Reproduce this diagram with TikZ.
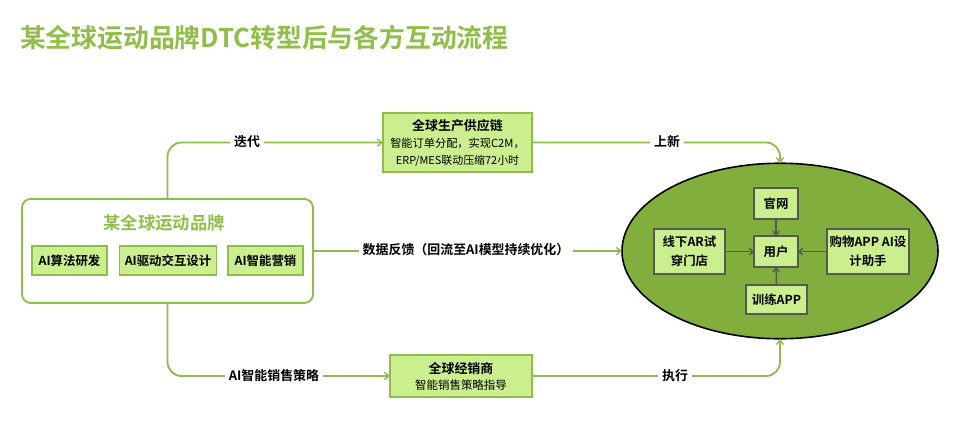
\documentclass[tikz,border=0pt]{standalone}
\usepackage{fontspec}
\setmainfont{Noto Sans CJK SC}
\newfontfamily\boldcjk{Noto Sans CJK SC Bold}
\usetikzlibrary{shapes.geometric,arrows.meta,calc}
\definecolor{gline}{HTML}{8FBC4F}
\definecolor{gfill}{HTML}{CBEE8F}
\definecolor{gell}{HTML}{82AE3E}
\definecolor{gtitle}{HTML}{8FBF48}
\definecolor{gdark}{HTML}{555B50}
\tikzset{
  x=0.75pt,y=-0.75pt,
  every node/.style={inner sep=0pt,outer sep=0pt,font=\fontsize{9.4}{12}\selectfont},
  flow/.style={draw=gline,line width=1.4pt,rounded corners=10.5pt,-{Straight Barb[length=3.5pt,width=5.5pt,line width=1pt]}},
  inner/.style={draw=gdark,line width=1.1pt,-{Straight Barb[length=3pt,width=5pt,line width=1pt]}},
  greenbox/.style={draw=gline,fill=gfill,line width=1.3pt,minimum width=#1,anchor=center,align=center},
  darkbox/.style={draw=gdark,fill=gfill,line width=1.2pt,align=center},
  lab/.style={fill=white,inner xsep=3pt,inner ysep=3pt,font=\boldcjk\fontsize{9.7}{12}\selectfont},
  bt/.style={font=\boldcjk\fontsize{9.3}{14.2}\selectfont},
}
\newcommand{\boxat}[6]{\node[#1,minimum width=#4*0.75pt,minimum height=#5*0.75pt] (#2) at (#3) {#6};}
\begin{document}
\begin{tikzpicture}
\useasboundingbox (0,0) rectangle (960,434);
\node[anchor=west,text=gtitle,font=\boldcjk\fontsize{19.35}{22}\selectfont] (title) at (20,38) {某全球运动品牌DTC转型后与各方互动流程};

% brand
\node[draw=gline,line width=1.4pt,rounded corners=6.5pt,minimum width=291*0.75pt,minimum height=104*0.75pt] (brand) at (167.5,251) {};
\node[text=gtitle,font=\boldcjk\fontsize{13}{15}\selectfont] (brandt) at (164,223) {某全球运动品牌};
\boxat{greenbox=0pt,bt}{b1}{69.5,260.5}{75}{29}{AI算法研发}
\boxat{greenbox=0pt,bt}{b2}{168,260.5}{97}{29}{AI驱动交互设计}
\boxat{greenbox=0pt,bt}{b3}{265.5,260.5}{75}{29}{AI智能营销}

% supply
\boxat{greenbox=0pt}{sup}{457.5,142.5}{149}{59}{{\boldcjk\fontsize{9.7}{12}\selectfont 全球生产供应链}\\[0.75pt]{\fontsize{8.4}{12}\selectfont 智能订单分配，实现C2M，}\\[0.75pt]{\fontsize{8.2}{12}\selectfont ERP/MES联动压缩72小时}}
% dealer
\boxat{greenbox=0pt}{deal}{461,376}{142}{42}{{\boldcjk\fontsize{9.7}{12}\selectfont 全球经销商}\\{\fontsize{8.6}{12}\selectfont 智能销售策略指导}}

% ellipse
\node[ellipse,draw=black,fill=gell,line width=1.2pt,minimum width=316*0.75pt,minimum height=175.5*0.75pt] (ell) at (780,251) {};
\boxat{darkbox,bt}{web}{776,203.5}{43.5}{31}{官网}
\boxat{darkbox,bt}{user}{776,251.5}{43.5}{31}{用户}
\boxat{darkbox,bt}{ar}{689.5,251.5}{71}{45}{线下AR试\\穿门店}
\boxat{darkbox,bt}{shop}{868,251.5}{82}{45}{购物APP AI设\\计助手}
\boxat{darkbox,bt}{train}{776.5,299.5}{61}{29}{训练APP}
\draw[inner] (web) -- (user);
\draw[inner] (train) -- (user);
\draw[inner] (ar) -- (user);
\draw[inner] (shop) -- (user);

% connectors
\coordinate (tl) at (brand.north |- sup);
\coordinate (bl) at (brand.south |- deal);
\coordinate (etop) at (ell.north);
\coordinate (ebot) at (ell.south);
\draw[flow] (brand.north) -- (tl) -- (sup.west);
\draw[flow] (brand.south) -- (bl) -- (deal.west);
\draw[flow] (sup.east) -- (etop |- sup) -- (etop);
\draw[flow] (deal.east) -- (ebot |- deal) -- (ebot);
\draw[flow] (brand.east |- ell) -- (ell.west);
\node[lab] (l1) at (247,142) {迭代};
\node[lab] (l2) at (667,142) {上新};
\node[lab] (l3) at (466,250) {数据反馈（回流至AI模型持续优化）};
\node[lab] (l4) at (274,376) {AI智能销售策略};
\node[lab] (l5) at (675,376) {执行};
\end{tikzpicture}
\end{document}
